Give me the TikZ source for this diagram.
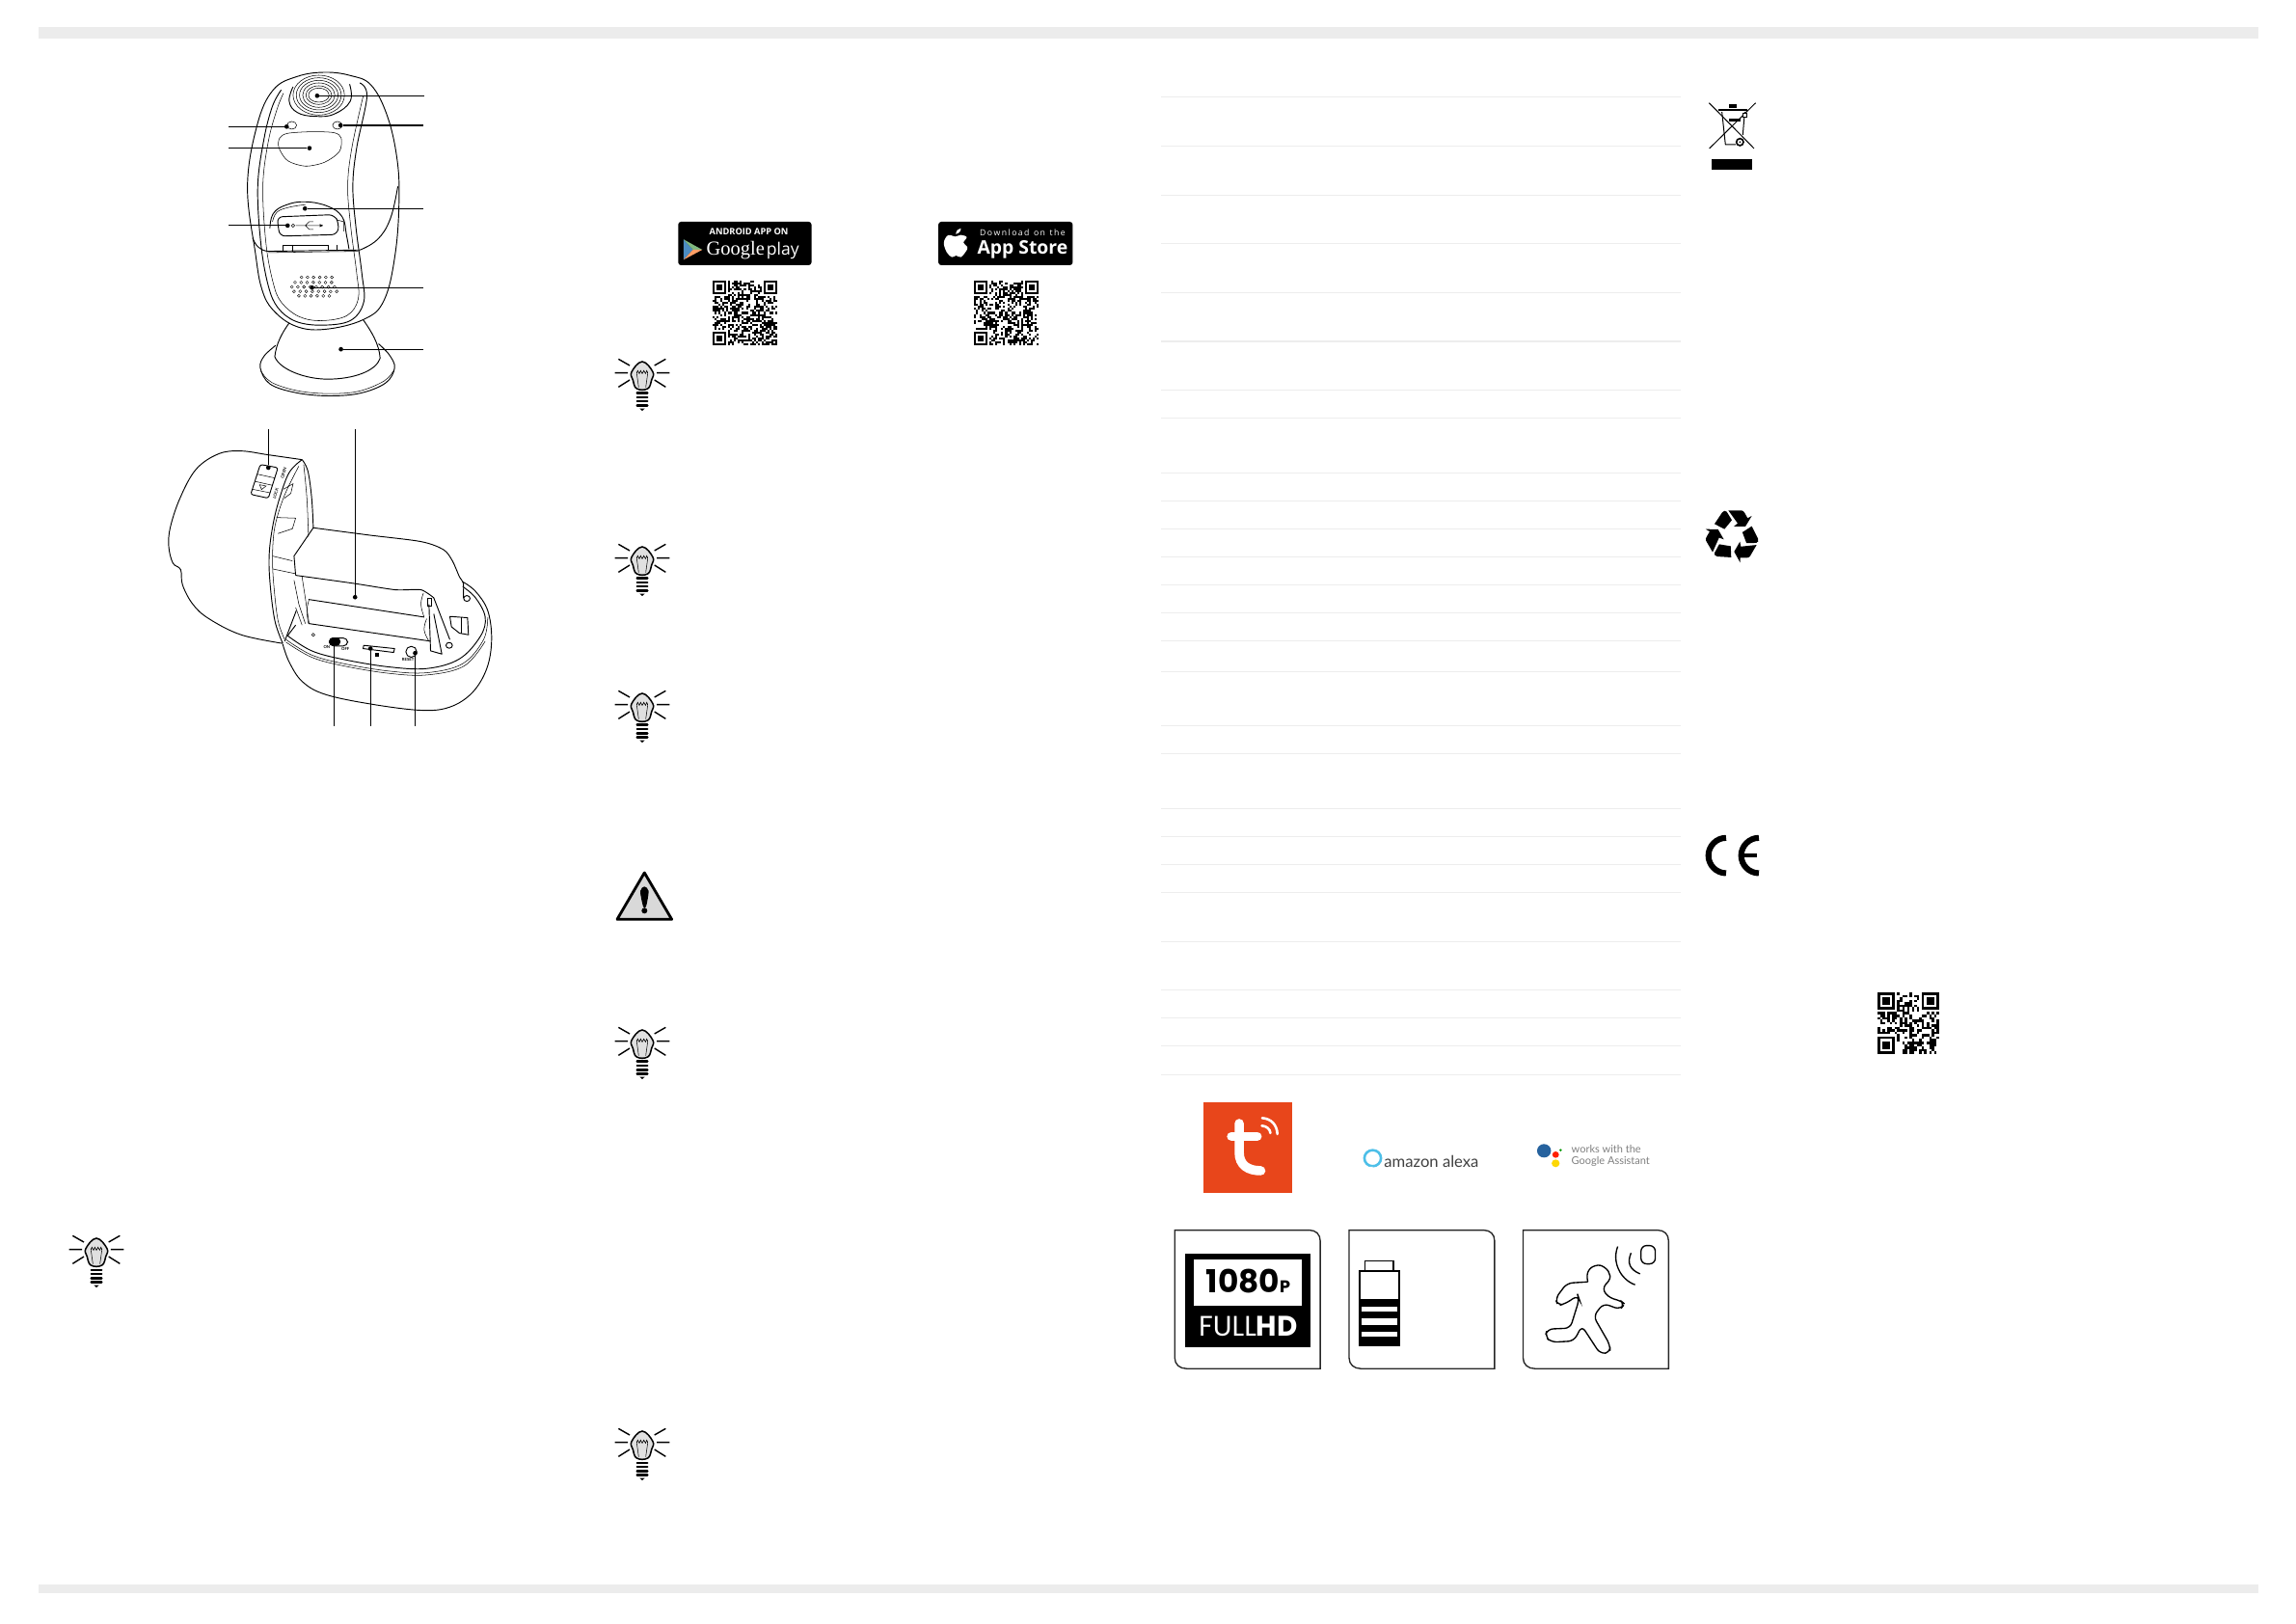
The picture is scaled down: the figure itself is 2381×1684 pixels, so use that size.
\documentclass[tikz,border=0pt]{standalone}
\usepackage{fontspec}
\usepackage{xcolor}
\usetikzlibrary{calc}
\newfontfamily\hdfont{Poppins}
\newfontfamily\logofont{Lato}
\newfontfamily\badgefont{Open Sans}
\newfontfamily\playfont{Liberation Serif}
\definecolor{barcol}{HTML}{ECECEC}
\definecolor{rulecol}{HTML}{EDEDED}
\definecolor{tuyacol}{HTML}{E8461B}
\definecolor{alexacol}{HTML}{4DBFE8}
\tikzset{
	part/.style={line width=0.8pt, line join=round},
	fine/.style={line width=0.45pt},
	leader/.style={line width=1pt},
	leaddot/.style={circle, fill=black, inner sep=0pt, minimum size=0.14cm},
	tablerule/.style={rulecol, line width=0.9pt},
	iconbox/.style={line width=1.15pt, draw=black!85},
	tiny print/.style={font=\logofont\bfseries\fontsize{3.6}{4}\selectfont, inner sep=0pt},
	pics/bulbicon/.style={code={
		\begin{scope}[x=0.01cm, y=-0.01cm, shift={(-137,-555)}]
			\draw[line width=1.2pt] (52,533) -- (92,533) (182,533) -- (222,533) (63,490) -- (98,510) (210,490) -- (175,510) (63,577) -- (98,555) (210,577) -- (175,555);
			\draw[line width=1.3pt, fill=black!12] plot[smooth cycle, tension=0.7] coordinates {(120,582) (108,555) (104,530) (137,498) (170,530) (166,555) (154,582)};
			\draw[line width=0.45pt] (126,578) -- (120,535) (148,578) -- (154,535);
			\draw[line width=0.55pt] plot[smooth, tension=1] coordinates {(120,535) (123,526) (128,535) (132,526) (137,535) (142,526) (147,535) (151,526) (154,535)};
			\foreach \y in {596,609,622,635}
				\draw[line width=2pt, line cap=round] (121,\y) -- (153,\y);
			\fill (129,644) -- (145,644) -- (137,651) -- cycle;
		\end{scope}
	}},
}
\newcommand{\qrfinder}[3]{
	\fill ({#1},{#2}) rectangle ++(7*#3,7*#3);
	\fill[white] ({#1+#3},{#2+#3}) rectangle ++(5*#3,5*#3);
	\fill ({#1+2*#3},{#2+2*#3}) rectangle ++(3*#3,3*#3);
}
\newcommand{\qrblock}[5]{
	\begin{scope}[shift={(#1,#2)}]
		\pgfmathsetseed{#5}
		\pgfmathsetmacro{\qrlast}{int(#4-1)}
		\foreach \r in {0,...,\qrlast}
			\foreach \c in {0,...,\qrlast}{
				\pgfmathparse{rnd<0.5 ? 1 : 0}
				\ifnum\pgfmathresult=1
					\fill (\c*#3,\r*#3) rectangle ++(#3,#3);
				\fi
			}
		\fill[white] (0,0) rectangle (8*#3,8*#3);
		\fill[white] ({(#4-8)*#3},0) rectangle ({#4*#3},8*#3);
		\fill[white] (0,{(#4-8)*#3}) rectangle (8*#3,{#4*#3});
		\qrfinder{0}{0}{#3}
		\qrfinder{(#4-7)*#3}{0}{#3}
		\qrfinder{0}{(#4-7)*#3}{#3}
	\end{scope}
}
\begin{document}
\begin{tikzpicture}[x=0.03cm, y=-0.03cm]
	\useasboundingbox (0,0) rectangle (2381,1684);
	\fill[white] (0,0) rectangle (2381,1684);
	\fill[barcol] (40,28) rectangle (2342,40);
	\fill[barcol] (40,1643) rectangle (2342,1652);

	% camera, front
	\begin{scope}[shift={(150,50)}, x=0.01cm, y=-0.01cm]
		\draw[part, fill=white] (450,855) .. controls (425,890) and (410,920) .. (405,960) .. controls (420,1000) and (500,1030) .. (570,1030) .. controls (650,1030) and (720,1005) .. (733,965) .. controls (730,920) and (705,880) .. (680,845);
		\draw[part] plot[smooth, tension=0.6] coordinates {(408,925) (372,958) (360,995) (390,1045) (470,1072) (570,1082) (670,1074) (750,1042) (778,995) (762,955) (728,920)};
		\draw[fine] plot[smooth, tension=0.6] coordinates {(362,1005) (395,1040) (475,1066) (570,1075) (665,1068) (745,1036) (776,1002)};
		\draw[part, fill=white] plot[smooth cycle, tension=0.65] coordinates {(560,75) (640,85) (705,115) (755,210) (785,340) (792,470) (780,640) (745,785) (680,845) (560,875) (470,865) (400,815) (365,750) (345,640) (320,430) (350,240) (400,130) (475,88)};
		\draw[part] plot[smooth, tension=0.6] coordinates {(425,130) (398,180) (372,280) (352,430) (362,610) (385,740) (415,808) (470,850) (550,862) (640,848) (682,790) (676,700) (658,560) (648,430) (660,310) (692,150) (670,108)};
		\draw[fine] plot[smooth, tension=0.6] coordinates {(432,140) (412,190) (385,290) (368,430) (378,610) (400,730) (425,790) (480,835) (550,848) (630,832) (665,780) (660,700) (642,560) (632,430) (645,310) (680,150)};
		\draw[part] plot[smooth, tension=0.7] coordinates {(788,430) (765,530) (725,595) (670,628)};
		\draw[part] (336,590) .. controls (345,615) and (360,630) .. (385,632) -- (670,628);
		\draw[fine] (385,636) -- (665,632);
		\draw[part] plot[smooth, tension=0.7] coordinates {(638,112) (640,165) (590,205) (530,212) (475,200) (450,165) (462,120)};
		\foreach \rx/\ry in {80/62,70/54,60/46,50/38,40/29,32/22}
			\draw[fine] (542,146) ellipse [x radius=\rx, y radius=\ry];
		\draw[fine, fill=white] (458,240) ellipse [x radius=15, y radius=12];
		\draw[fine, fill=white] (600,240) ellipse [x radius=15, y radius=12];
		\draw[fine] plot[smooth cycle, tension=0.5] coordinates {(420,280) (445,265) (520,260) (590,263) (612,280) (606,322) (560,355) (500,367) (445,350) (418,310)};
		\draw[part] plot[smooth, tension=0.7] coordinates {(390,560) (400,515) (440,488) (500,478) (570,492) (615,525) (628,580) (636,625)};
		\draw[fine] plot[smooth, tension=0.7] coordinates {(398,540) (412,510) (450,495) (500,487)};
		\draw[part, rounded corners=5pt] (412,525) -- (590,518) -- (605,545) -- (600,580) -- (420,585) -- cycle;
		\draw[fine] (600,535) -- (620,540) -- (620,570);
		\draw[fine] (430,612) -- (570,612) (430,612) -- (430,630) (460,612) -- (460,632) (570,612) -- (570,630) (597,612) -- (597,630);
		\draw[fine] (462,552) circle [radius=5] (470,552) -- (555,552) (500,552) -- (512,540) -- (525,540) (500,552) -- (512,564) -- (525,564);
		\fill (555,552) -- (545,547) -- (545,557) -- cycle;
		\foreach \y/\a/\b in {713/488/583, 729/468/600, 743/458/605, 757/465/605, 771/480/582}
			\foreach \x in {\a,...,\b}{
				\pgfmathparse{int(mod(\x-\a,19))}
				\ifnum\pgfmathresult=0
					\draw[line width=0.35pt] (\x,\y) circle [radius=4.5];
				\fi
			}

		\node[leaddot] (lensdot) at (537,148) {};
		\node[leaddot] (ledrdot) at (610,240) {};
		\node[leaddot] (ledldot) at (442,244) {};
		\node[leaddot] (pirdot) at (513,311) {};
		\node[leaddot] (usbdot) at (445,552) {};
		\node[leaddot] (doordot) at (499,499) {};
		\node[leaddot] (speakerdot) at (521,745) {};
		\node[leaddot] (basedot) at (611,937) {};
		\coordinate (lensend) at (870,148);
		\coordinate (ledrend) at (868,240);
		\coordinate (ledlend) at (262,244);
		\coordinate (pirend) at (262,311);
		\coordinate (usbend) at (262,552);
		\coordinate (doorend) at (868,499);
		\coordinate (speakerend) at (868,745);
		\coordinate (baseend) at (868,937);
		\draw[leader] (lensdot) -- (lensend);
		\draw[leader] (ledrdot) -- (ledrend);
		\draw[leader] (ledldot) -- (ledlend);
		\draw[leader] (pirdot) -- (pirend);
		\draw[leader] (usbdot) -- (usbend);
		\draw[leader] (doordot) -- (doorend);
		\draw[leader] (speakerdot) -- (speakerend);
		\draw[leader] (basedot) -- (baseend);
	\end{scope}

	% camera, open
	\begin{scope}[shift={(150,430)}, x=0.01cm, y=-0.01cm]
		\draw[part] plot[smooth, tension=0.6] coordinates {(490,140) (385,125) (300,113) (230,122) (160,170) (110,260) (80,350) (75,410) (88,462) (112,482) (118,530) (150,590) (200,635) (300,685) (430,712)};
		\draw[part] plot[smooth, tension=0.6] coordinates {(490,140) (508,175) (520,260) (525,352)};
		\draw[part] plot[smooth, tension=0.6] coordinates {(490,140) (450,180) (420,260) (400,340) (388,430) (390,520) (405,640) (430,712)};
		\draw[fine] plot[smooth, tension=0.6] coordinates {(480,160) (440,240) (415,310) (402,370) (398,450) (402,530) (415,640) (436,700)};
		\draw[fine] plot[smooth, tension=0.6] coordinates {(495,155) (505,260) (510,380)};
		\draw[part] (436,705) -- (472,610);
		\draw[fine] (398,440) -- (460,455) (398,480) -- (470,495);
		\draw[fine] (410,320) -- (470,322) -- (460,355) -- (415,370);
		\draw[fine] (432,232) -- (462,215) -- (455,245) -- (435,260);
		\draw[part] plot[smooth, tension=0.5] coordinates {(525,352) (700,375) (860,395) (930,420) (958,455) (980,505) (992,525) (992,570)};
		\draw[part] (525,352) -- (465,440) -- (470,500);
		\draw[part] plot[smooth, tension=0.4] coordinates {(470,500) (650,525) (780,545) (860,545) (900,570)};
		\draw[part] (900,570) -- (950,700) (885,590) -- (890,735) -- (925,745) -- (900,620);
		\draw[part] (510,575) -- (870,630) (510,650) -- (890,705);
		\draw[fine] (465,515) -- (480,590) -- (500,650) (490,505) -- (500,570) -- (512,650) (470,600) -- (490,655);
		\draw[fine] plot[smooth, tension=0.7] coordinates {(510,650) (505,610) (512,575)};
		\draw[fine] plot[smooth, tension=0.7] coordinates {(870,630) (860,590) (868,555)};
		\draw[fine] plot[smooth, tension=0.7] coordinates {(885,705) (870,670) (878,635)};
		\draw[fine] (880,570) rectangle (892,595);
		\draw[part] (950,628) -- (1005,632) -- (1008,685) -- (980,680) -- (955,660) -- cycle;
		\draw[fine] (985,630) -- (985,680);
		\draw[part] (1003,572) ellipse [x radius=10, y radius=9];
		\draw[part] (948,718) ellipse [x radius=10, y radius=9];
		\draw[fine] (525,685) circle [radius=5];
		\draw[part] plot[smooth, tension=0.6] coordinates {(430,715) (450,770) (490,830) (560,870) (700,900) (860,920) (950,910) (1020,865) (1065,790) (1080,700) (1068,610) (1030,550) (990,520)};
		\draw[part] plot[smooth, tension=0.6] coordinates {(445,688) (520,735) (620,762) (760,785) (880,790) (980,760) (1045,690) (1060,630) (1030,570) (990,535)};
		\draw[fine] plot[smooth, tension=0.6] coordinates {(440,700) (520,748) (620,775) (760,798) (880,803) (990,775) (1055,700) (1068,630)};
		\draw[fine] plot[smooth, tension=0.6] coordinates {(440,708) (520,755) (620,782) (760,805) (880,810) (995,782) (1060,705)};
		\draw[part] (470,655) -- (445,688);
		\draw[part, fill=black, rounded corners=3pt] (575,695) rectangle (608,718);
		\draw[part, rounded corners=4pt] (575,695) rectangle (632,720);
		\draw[part] (682,718) -- (778,728) -- (775,740) -- (680,728) -- cycle;
		\fill (716,742) rectangle (730,752);
		\draw[part] (830,738) circle [radius=17];
		\node[tiny print] (onlabel) at (567,722) {ON};
		\node[tiny print] (offlabel) at (625,730) {OFF};
		\node[tiny print] (resetlabel) at (820,762) {RESET};
		\node[tiny print, rotate=75] (locklabel) at (408,245) {LOCK};
		\node[tiny print, rotate=75] (openlabel) at (433,182) {OPEN};
		\draw[part, fill=white, rounded corners=2pt] (360,155) -- (415,165) -- (385,260) -- (330,248) -- cycle;
		\draw[fine] (350,185) -- (405,197) (345,208) -- (398,220) (335,232) -- (390,243);
		\draw[fine] (358,218) -- (378,222) -- (364,233) -- cycle;

		\node[leaddot] (latchdot) at (385,165) {};
		\node[leaddot] (batterydot) at (655,568) {};
		\node[leaddot] (switchdot) at (590,708) {};
		\node[leaddot] (sddot) at (703,728) {};
		\node[leaddot] (resetdot) at (842,742) {};
		\coordinate (latchend) at (385,45);
		\coordinate (batteryend) at (655,45);
		\coordinate (switchend) at (590,968);
		\coordinate (sdend) at (703,968);
		\coordinate (resetend) at (842,968);
		\draw[leader] (latchdot) -- (latchend);
		\draw[leader] (batterydot) -- (batteryend);
		\draw[leader] (switchdot) -- (switchend);
		\draw[leader] (sddot) -- (sdend);
		\draw[leader] (resetdot) -- (resetend);
	\end{scope}

	% app badges
	\begin{scope}[shift={(620,210)}, x=0.01cm, y=-0.01cm]
		\fill[rounded corners=2.5pt] (250,60) rectangle (665,195);
		\fill[rounded corners=2.5pt] (1060,60) rectangle (1478,195);
		\fill[blue!45!cyan!65!black!70] (267,115) -- (296,147) -- (267,178) -- cycle;
		\fill[green!45!black!50!white] (267,115) -- (325,147) -- (296,147) -- cycle;
		\fill[orange!75!red!60!white] (267,178) -- (296,147) -- (325,147) -- cycle;
		\node[white, font=\badgefont\bfseries\fontsize{7.9}{8}\selectfont, inner sep=0pt] (androidtext) at (470,90) {ANDROID APP ON};
		\node[white, inner sep=0pt, anchor=base] (playtext) at (482,163) {{\playfont\fontsize{17.5}{18}\selectfont Google}\,{\badgefont\fontsize{15}{16}\selectfont play}};
		\fill[white] plot[smooth cycle, tension=0.6] coordinates {(1113,106) (1090,102) (1077,125) (1086,155) (1102,170) (1115,165) (1130,170) (1147,150) (1150,138) (1138,125) (1148,108) (1130,101)};
		\fill[white] (1114,98) .. controls (1116,86) and (1122,82) .. (1130,80) .. controls (1130,90) and (1124,96) .. (1114,98) -- cycle;
		\node[white, font=\badgefont\fontsize{7.4}{8}\selectfont, inner sep=0pt] (downloadtext) at (1322,94) {D\,o\,w\,n\,l\,o\,a\,d\ \ o\,n\ \ t\,h\,e};
		\node[white, font=\badgefont\bfseries\fontsize{16.5}{17}\selectfont, inner sep=0pt] (storetext) at (1322,147) {App Store};
	\end{scope}
	\qrblock{739}{291}{2.03}{33}{11}
	\qrblock{1010}{291}{2.03}{33}{23}
	\qrblock{1947}{1029}{2.55}{25}{37}

	% tip and warning icons
	\pic at (666,394) {bulbicon};
	\pic at (666,586) {bulbicon};
	\pic at (666,738) {bulbicon};
	\pic at (666,1087) {bulbicon};
	\pic at (666,1503) {bulbicon};
	\pic at (100,1303) {bulbicon};
	\begin{scope}[shift={(620,890)}, x=0.01cm, y=-0.01cm]
		\draw[line width=2.4pt, fill=black!15, line join=round] (145,45) -- (230,190) -- (60,190) -- cycle;
		\fill plot[smooth cycle, tension=0.5] coordinates {(145,88) (158,102) (150,150) (141,150) (132,102)};
		\fill (145,163) circle [radius=9];
	\end{scope}

	% spec table rules
	\foreach \y in {100.5,151.2,202.2,252.2,303.3,354,404.3,433.4,490.2,519.3,548.3,577.4,606.5,635.3,664.4,696.2,752.3,781.4,838.5,867.2,896.3,925.4,976.4,1026.4,1055.5,1084.2,1114.3}
		\draw[tablerule] (1204,\y) -- (1743,\y);

	% logos and feature boxes
	\begin{scope}[shift={(1210,1120)}, x=0.01033cm, y=-0.01cm]
		\fill[tuyacol] (110,68) rectangle (377,350);
		\draw[white, line width=8.2pt, line cap=round] (218,135) -- (218,225) .. controls (218,265) and (245,282) .. (283,282);
		\draw[white, line width=8.2pt, line cap=round] (195,175) -- (272,175);
		\draw[white, line width=2.2pt, line cap=round] (287,118) .. controls (315,120) and (332,140) .. (333,168);
		\draw[white, line width=2.2pt, line cap=round] (286,142) .. controls (300,143) and (311,152) .. (312,165);
		\draw[alexacol, line width=2.2pt] (620,243) circle [radius=25];
		\fill[white] (608,270) -- (622,270) -- (610,280) -- cycle;
		\node[black!75, font=\logofont\fontsize{14.2}{15}\selectfont, inner sep=0pt, anchor=base west] (alexatext) at (654,272) {amazon alexa};
		\fill[blue!50!cyan!55!black!85] (1136,220) circle [radius=21];
		\fill[red!75!orange] (1171,232) circle [radius=10];
		\fill[yellow!75!orange] (1171,259) circle [radius=12];
		\fill[green!60!black] (1186,218) circle [radius=4];
		\node[black!50, font=\logofont\fontsize{9.4}{10}\selectfont, inner sep=0pt, anchor=base west] (workstext) at (1218,228) {works with the};
		\node[black!50, font=\logofont\fontsize{9.4}{10}\selectfont, inner sep=0pt, anchor=base west] (assistanttext) at (1218,263) {Google Assistant};
		\foreach \x in {24,549,1073}
			\draw[iconbox] (\x,467) -- (\x+405,467) .. controls (\x+425,467) and (\x+438,480) .. (\x+438,500) -- (\x+438,898) -- (\x+35,898) .. controls (\x+15,898) and (\x,885) .. (\x,865) -- cycle;
		\fill (55,540) rectangle (432,830);
		\fill[white] (82,558) rectangle (407,702);
		\node[font=\hdfont\bfseries\fontsize{28}{29}\selectfont, inner sep=0pt] (hdnumber) at (245,627) {1080{\fontsize{15}{16}\selectfont P}};
		\node[white, font=\hdfont\fontsize{25}{26}\selectfont, inner sep=0pt] (hdtext) at (245,765) {FULL\textbf{HD}};
		\draw[line width=1.15pt] (597,590) -- (597,563) -- (682,563) -- (682,590);
		\draw[line width=1.5pt] (580,594) rectangle (699,825);
		\fill (580,682) rectangle (699,826);
		\fill[white] (586,705) rectangle (693,720);
		\fill[white] (586,741) rectangle (693,762);
		\fill[white] (586,783) rectangle (693,798);
		\draw[line width=1.15pt, rounded corners=5pt] (1268,628) -- (1205,632) -- (1170,680) -- (1178,702) -- (1200,696) -- (1238,670) -- (1242,682) -- (1215,772) -- (1146,775) -- (1139,798) -- (1158,816) -- (1226,812) -- (1250,765) -- (1305,852) -- (1335,848) -- (1335,825) -- (1285,735) -- (1315,695) -- (1365,714) -- (1379,697) -- (1365,685) -- (1335,680) -- (1310,650) -- (1325,632);
		\draw[line width=1.15pt] plot[smooth, tension=0.8] coordinates {(1325,632) (1335,610) (1318,583) (1290,578) (1268,598) (1268,628)};
		\draw[line width=1.15pt] (1358,518) .. controls (1340,565) and (1365,620) .. (1410,637);
		\draw[line width=1.15pt] (1398,538) .. controls (1385,570) and (1395,590) .. (1425,603);
		\draw[line width=1.15pt, rounded corners=5pt] (1428,515) rectangle (1471,572);
	\end{scope}

	% disposal marks
	\begin{scope}[shift={(1750,90)}, x=0.01cm, y=-0.01cm]
		\draw[line width=0.85pt] (67,50) -- (207,192) (212,50) -- (68,192);
		\draw[line width=1.4pt] (97,72) -- (185,72);
		\fill (130,55) rectangle (152,66);
		\draw[line width=0.85pt] (107,78) -- (118,180) -- (150,180) (178,78) -- (172,150);
		\draw[line width=0.85pt, fill=white] (173,82) rectangle (186,95);
		\fill (130,100) rectangle (165,108);
		\draw[line width=1.4pt, fill=white] (163,172) circle [radius=11];
		\fill (163,172) circle [radius=3];
		\fill (75,225) rectangle (200,258);
	\end{scope}
	\begin{scope}[shift={(1750,510)}, x=0.01cm, y=-0.01cm]
		\foreach \a in {0,120,240}{
			\begin{scope}[rotate around={\a:(140,137)}]
				\fill (84,100) -- (108,64) .. controls (112,58) and (118,58) .. (122,62) -- (138,88) -- (115,116) -- cycle;
				\fill (127,58) -- (168,58) .. controls (172,58) and (176,62) .. (178,66) -- (187,82) -- (200,75) -- (180,108) -- (144,108) -- (156,98) -- cycle;
			\end{scope}
		}
		\draw[line width=5.2pt] (120,1077) .. controls (90,1077) and (65,1102) .. (65,1132) .. controls (65,1162) and (90,1187) .. (120,1187);
		\draw[line width=5.2pt] (222,1077) .. controls (192,1077) and (167,1102) .. (167,1132) .. controls (167,1162) and (192,1187) .. (222,1187);
		\draw[line width=3.4pt] (167,1132) -- (215,1132);
	\end{scope}
\end{tikzpicture}
\end{document}
